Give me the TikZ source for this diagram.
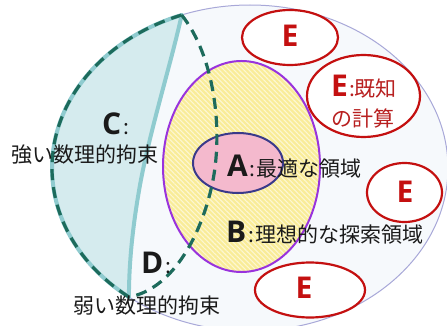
\documentclass[tikz,border=0pt]{standalone}
\usepackage{fontspec}
\newfontfamily\jp{Noto Sans CJK JP}
\newfontfamily\lf{Open Sans}
\newcommand{\jpsm}{\jp\mdseries\fontsize{21}{24}\selectfont}
\usetikzlibrary{patterns.meta}
\definecolor{outerfill}{HTML}{F6F9FC}
\definecolor{lav}{HTML}{A8A8D8}
\definecolor{cfill}{HTML}{D5EBEE}
\definecolor{cline}{HTML}{8FCBCF}
\definecolor{dgreen}{HTML}{1D6B5C}
\definecolor{yfill}{HTML}{F9EC98}
\definecolor{ystripe}{HTML}{FDF7D2}
\definecolor{bpurple}{HTML}{9933DD}
\definecolor{apink}{HTML}{F4B9CD}
\definecolor{anavy}{HTML}{3A3A8A}
\definecolor{ered}{HTML}{C41010}
\definecolor{etext}{HTML}{B82020}
\definecolor{ink}{HTML}{1A1A1A}
\tikzset{
  bigletter/.style={font=\lf\bfseries\fontsize{30}{30}\selectfont, inner sep=0pt, anchor=base west, text=ink},
  jptext/.style={font=\jpsm, inner sep=0pt, text=ink},
  eell/.style={draw=ered, line width=2.2pt, fill=white},
  eletter/.style={font=\lf\bfseries\fontsize{30}{30}\selectfont, inner sep=0pt, anchor=base, text=ered},
  dashline/.style={draw=dgreen, line width=3.2pt, dash pattern=on 11pt off 7pt},
  tealline/.style={draw=cline, line width=4pt, line cap=round, line join=round},
}
\begin{document}
\begin{tikzpicture}[x=1pt,y=-1pt]
\useasboundingbox (0,0) rectangle (447,326);
% outer region
\draw[lav, line width=1pt, fill=outerfill] (250,168) ellipse [x radius=198pt, y radius=163pt];
\coordinate (P1) at ({250+198*cos(249.8)},{168+163*sin(249.8)});
\coordinate (P2) at ({250+198*cos(127.7)},{168+163*sin(127.7)});
\coordinate (Q) at (140,185);
\coordinate (R) at (212,185);
% C region
\fill[cfill] plot[domain=249.8:127.7, samples=80] ({250+198*cos(\x)},{168+163*sin(\x)})
  .. controls (129,265) and (132,230) .. (Q) .. controls (150,130) and (172,60) .. (P1) -- cycle;
\draw[tealline] (P1) .. controls (172,60) and (150,130) .. (Q) .. controls (132,230) and (129,265) .. (P2);
\draw[tealline] plot[domain=249.8:127.7, samples=80] ({250+198*cos(\x)},{168+163*sin(\x)});
% B region
\fill[yfill] (241.5,166.5) ellipse [x radius=78.5pt, y radius=105.5pt];
\fill[pattern={Lines[angle=-45,distance=3.5pt,line width=1.1pt]}, pattern color=ystripe] (241.5,166.5) ellipse [x radius=78.5pt, y radius=105.5pt];
\draw[bpurple, line width=2pt] (241.5,166.5) ellipse [x radius=78.5pt, y radius=105.5pt];
% A region
\draw[anavy, line width=2pt, fill=apink] (238,163) ellipse [x radius=45pt, y radius=30pt];
% dashed boundaries
\draw[dashline] plot[domain=249.8:127.7, samples=80] ({250+198*cos(\x)},{168+163*sin(\x)});
\draw[dashline] (P1) .. controls (214,55) and (224,130) .. (R) .. controls (200,240) and (170,290) .. (P2);
% E regions
\draw[eell] (290,37.5) ellipse [x radius=48pt, y radius=27.5pt];
\draw[eell] (363.5,96) ellipse [x radius=56.5pt, y radius=41pt];
\draw[eell] (404.5,192.5) ellipse [x radius=37.5pt, y radius=29.5pt];
\draw[eell] (310,290) ellipse [x radius=55pt, y radius=27.5pt];
\node[eletter] (e1) at (290,47) {E};
\node[eletter] (e3) at (405,202) {E};
\node[eletter] (e4) at (304,298) {E};
\node[bigletter, text=ered] (e2) at (331,97) {E\kern1pt{\jpsm\color{etext}:既知}};
\node[jptext, anchor=base west, text=etext] (e2b) at (331,127) {の計算};
% labels
\node[bigletter] (la) at (227,176) {A\kern2pt{\jpsm :\kern1pt 最適な領域}};
\node[bigletter] (lb) at (226,242) {B\kern2pt{\jpsm :\kern1pt 理想的な探索領域}};
\node[bigletter] (lc) at (102,135) {C\kern2pt{\jpsm :}};
\node[jptext, anchor=base] (lc2) at (85.5,163) {強い数理的拘束};
\node[bigletter] (ld) at (141,273) {D\kern2pt{\jpsm :}};
\node[jptext, anchor=base] (ld2) at (146.5,313) {弱い数理的拘束};
\end{tikzpicture}
\end{document}
